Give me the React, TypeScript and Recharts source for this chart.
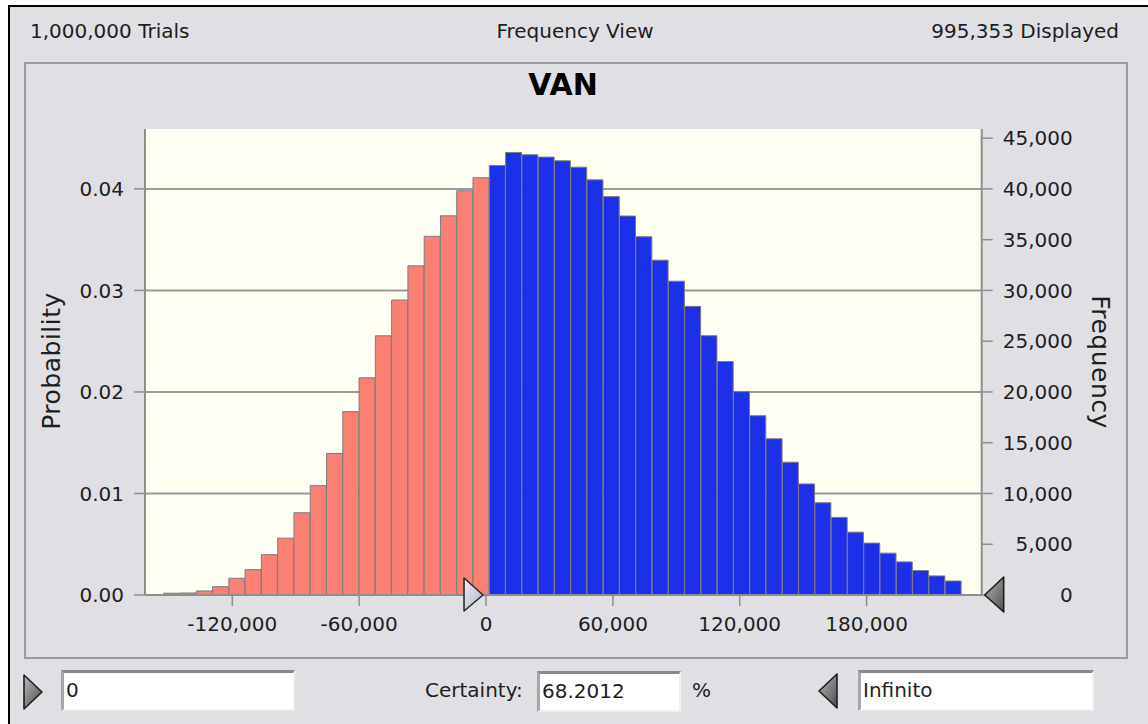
import React from 'react';
import { BarChart, Bar, Cell, XAxis, YAxis, CartesianGrid, ReferenceDot } from 'recharts';

// histogram bins (bin centres) and probabilities
const BIN_MIDS = [
  -148600, -140900, -133200, -125500, -117800, -110100, -102400, -94700, -87000, -79300,
  -71600, -63900, -56200, -48500, -40800, -33100, -25400, -17700, -10000, -2300,
  5400, 13100, 20800, 28500, 36200, 43900, 51600, 59300, 67000, 74700,
  82400, 90100, 97800, 105500, 113200, 120900, 128600, 136300, 144000, 151700,
  159400, 167100, 174800, 182500, 190200, 197900, 205600, 213300, 221000,
];
const PROBABILITY = [
  0.00018, 0.0002, 0.0004, 0.00082, 0.00165, 0.0025, 0.00397, 0.0056, 0.0081, 0.01077,
  0.01394, 0.01806, 0.02139, 0.02553, 0.02906, 0.03242, 0.03533, 0.03735, 0.03982, 0.0411,
  0.04231, 0.04359, 0.04336, 0.04313, 0.04277, 0.04214, 0.04089, 0.03924, 0.03733, 0.03529,
  0.03298, 0.03091, 0.02843, 0.02554, 0.023, 0.02003, 0.01766, 0.01539, 0.01308, 0.01094,
  0.00909, 0.00764, 0.00619, 0.00511, 0.00412, 0.00326, 0.00241, 0.00188, 0.00138,
];
const VALUE_TICKS = [-120000, -60000, 0, 60000, 120000, 180000];
const PROB_TICKS = [0, 0.01, 0.02, 0.03, 0.04];
const FREQ_TICKS = [0, 5000, 10000, 15000, 20000, 25000, 30000, 35000, 40000, 45000];
const X_DOMAIN = [-161300, 234450];
const PROB_DOMAIN = [0, 0.0459];
const FREQ_DOMAIN = [0, 45900];

const TRIALS = '1,000,000 Trials';
const VIEW = 'Frequency View';
const DISPLAYED = '995,353 Displayed';
const TITLE = 'VAN';
const LOWER = 0;
const LOWER_TEXT = '0';
const CERTAINTY = '68.2012';
const UPPER_TEXT = 'Infinito';

const data = BIN_MIDS.map((mid, i) => ({ mid, p: PROBABILITY[i] }));

const FONT = '"DejaVu Sans", Verdana, sans-serif';
const FACE = '#e0dfe3';
const INK = '#1e1e1e';
const RED = '#fa8072';
const BLUE = '#1b30e8';
const EDGE = '#7d7d7d';
const GRID = '#9c9c9c';
const AXIS = '#8e8e8e';

const fmt = (v: number) => v.toLocaleString('en-US');
const tickStyle = { fill: INK, fontSize: 20, fontFamily: FONT };

const LowMarker = (p: any) => (
  <g>
    <defs>
      <linearGradient id="gLow" x1="0" y1="0" x2="1" y2="1">
        <stop offset="0" stopColor="#f2f2fa" />
        <stop offset="1" stopColor="#a9abc6" />
      </linearGradient>
    </defs>
    <path
      d={`M${p.cx - 22},${p.cy - 17}L${p.cx - 3},${p.cy}L${p.cx - 22},${p.cy + 16}Z`}
      fill="url(#gLow)"
      stroke="#2c2c2c"
      strokeWidth={1.6}
      strokeLinejoin="round"
    />
  </g>
);

const HighMarker = (p: any) => (
  <g>
    <defs>
      <linearGradient id="gHigh" x1="0" y1="0" x2="1" y2="1">
        <stop offset="0" stopColor="#b4b4b4" />
        <stop offset="1" stopColor="#505050" />
      </linearGradient>
    </defs>
    <path
      d={`M${p.cx + 22},${p.cy - 18}L${p.cx + 3},${p.cy}L${p.cx + 22},${p.cy + 17}Z`}
      fill="url(#gHigh)"
      stroke="#1e1e1e"
      strokeWidth={1.6}
      strokeLinejoin="round"
    />
  </g>
);

const SmallArrow: React.FC<{ left: number; top: number; dir: 'left' | 'right' }> = ({ left, top, dir }) => (
  <svg width={22} height={38} style={{ position: 'absolute', left, top }}>
    <defs>
      <linearGradient id={`ga-${dir}`} x1="0" y1="0" x2="1" y2="1">
        <stop offset="0" stopColor="#b8b8b8" />
        <stop offset="1" stopColor="#4c4c4c" />
      </linearGradient>
    </defs>
    <path
      d={dir === 'right' ? 'M2,2L20,19L2,36Z' : 'M20,2L2,19L20,36Z'}
      fill={`url(#ga-${dir})`}
      stroke="#1e1e1e"
      strokeWidth={1.6}
      strokeLinejoin="round"
    />
  </svg>
);

const Field: React.FC<{ left: number; top: number; width: number; text: string }> = ({ left, top, width, text }) => (
  <div
    style={{
      position: 'absolute',
      left,
      top,
      width,
      height: 41,
      boxSizing: 'border-box',
      background: '#fff',
      borderTop: '3px solid #8a8a8a',
      borderLeft: '3px solid #a6a6a6',
      borderRight: '2px solid #f3f2ea',
      borderBottom: '2px solid #f3f2ea',
      paddingLeft: 2,
      fontSize: 20,
      lineHeight: '34px',
      color: INK,
    }}
  >
    {text}
  </div>
);

const abs = (left: number, top: number, extra: React.CSSProperties = {}): React.CSSProperties => ({
  position: 'absolute',
  left,
  top,
  whiteSpace: 'nowrap',
  ...extra,
});

export default function App() {
  return (
    <div style={{ position: 'absolute', left: 0, top: 0, width: 1148, height: 724, background: '#fff', overflow: 'hidden', fontFamily: FONT, color: INK }}>
      {/* window */}
      <div style={{ position: 'absolute', left: 8, top: 5, width: 1160, height: 740, background: FACE, borderLeft: '2px solid #000', borderTop: '2px solid #000' }} />

      {/* header row */}
      <div style={abs(30, 19, { fontSize: 20, lineHeight: '24px' })}>{TRIALS}</div>
      <div style={abs(375, 19, { width: 400, textAlign: 'center', fontSize: 20, lineHeight: '24px' })}>{VIEW}</div>
      <div style={abs(719, 19, { width: 400, textAlign: 'right', fontSize: 20, lineHeight: '24px' })}>{DISPLAYED}</div>

      {/* chart panel */}
      <div style={{ position: 'absolute', left: 24, top: 62, width: 1104, height: 597, boxSizing: 'border-box', border: '2px solid #9c9c9c' }} />
      <div style={abs(363, 67, { width: 400, textAlign: 'center', fontSize: 30, fontWeight: 'bold', lineHeight: '36px', color: '#000' })}>{TITLE}</div>

      <div style={abs(-48, 346, { width: 200, height: 30, textAlign: 'center', fontSize: 25, letterSpacing: 0.5, lineHeight: '30px', transform: 'rotate(-90deg)' })}>
        Probability
      </div>
      <div style={abs(1000, 347, { width: 200, height: 30, textAlign: 'center', fontSize: 25, letterSpacing: 0.5, lineHeight: '30px', transform: 'rotate(90deg)' })}>
        Frequency
      </div>

      <div style={{ position: 'absolute', left: 0, top: 0 }}>
        <BarChart
          width={1148}
          height={724}
          data={data}
          margin={{ top: 129, right: 0, bottom: 89, left: 0 }}
          barCategoryGap={0}
          barGap={0}
        >
          <CartesianGrid
            xAxisId="val"
            yAxisId="prob"
            vertical={false}
            horizontalValues={PROB_TICKS}
            stroke={GRID}
            strokeWidth={2}
            fill="#fffff2"
            fillOpacity={1}
          />
          <XAxis
            xAxisId="val"
            dataKey="mid"
            type="number"
            domain={X_DOMAIN}
            allowDataOverflow
            ticks={VALUE_TICKS}
            interval={0}
            tickFormatter={fmt}
            tick={tickStyle}
            tickSize={11}
            tickMargin={11}
            height={40}
            axisLine={{ stroke: AXIS, strokeWidth: 2 }}
            tickLine={{ stroke: AXIS, strokeWidth: 1.5 }}
          />
          <XAxis
            xAxisId="frame"
            orientation="top"
            type="number"
            domain={X_DOMAIN}
            allowDataOverflow
            tick={false}
            tickLine={false}
            height={0}
            axisLine={{ stroke: AXIS, strokeWidth: 2 }}
          />
          <YAxis
            yAxisId="prob"
            type="number"
            domain={PROB_DOMAIN}
            allowDataOverflow
            ticks={PROB_TICKS}
            interval={0}
            tickFormatter={(v: number) => v.toFixed(2)}
            tick={tickStyle}
            tickSize={11}
            tickMargin={10}
            width={145}
            axisLine={{ stroke: AXIS, strokeWidth: 2 }}
            tickLine={{ stroke: AXIS, strokeWidth: 1.5 }}
          />
          <YAxis
            yAxisId="freq"
            orientation="right"
            type="number"
            domain={FREQ_DOMAIN}
            allowDataOverflow
            ticks={FREQ_TICKS}
            interval={0}
            tickFormatter={fmt}
            tick={{ ...tickStyle, textAnchor: 'end' }}
            tickSize={11}
            tickMargin={80}
            width={166.3}
            axisLine={{ stroke: AXIS, strokeWidth: 2 }}
            tickLine={{ stroke: AXIS, strokeWidth: 1.5 }}
          />
          <Bar xAxisId="val" yAxisId="prob" dataKey="p" stroke={EDGE} strokeWidth={1} isAnimationActive={false}>
            {data.map((d, i) => (
              <Cell key={i} fill={d.mid > LOWER ? BLUE : RED} />
            ))}
          </Bar>
          <ReferenceDot xAxisId="val" yAxisId="prob" x={LOWER} y={0} ifOverflow="visible" shape={LowMarker} />
          <ReferenceDot xAxisId="val" yAxisId="prob" x={X_DOMAIN[1]} y={0} ifOverflow="visible" shape={HighMarker} />
        </BarChart>
      </div>

      {/* certainty controls */}
      <SmallArrow left={22} top={673} dir="right" />
      <Field left={61} top={670} width={234} text={LOWER_TEXT} />
      <div style={abs(425, 677, { fontSize: 20, lineHeight: '26px' })}>Certainty:</div>
      <Field left={537} top={671} width={144} text={CERTAINTY} />
      <div style={abs(692, 677, { fontSize: 20, lineHeight: '26px' })}>%</div>
      <SmallArrow left={817} top={672} dir="left" />
      <Field left={858} top={670} width={236} text={UPPER_TEXT} />
    </div>
  );
}
